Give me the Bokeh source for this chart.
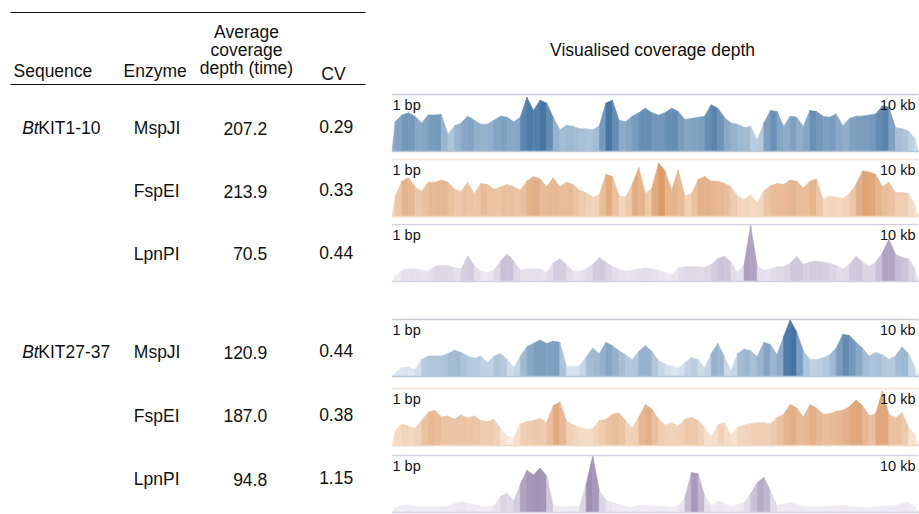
from bokeh.plotting import figure
from bokeh.models import Range1d
from bokeh.embed import file_html
from bokeh.resources import INLINE
from bokeh.core.properties import value

# ---------------- data ----------------
sequences = ["BtKIT1-10", "BtKIT27-37"]
enzymes = ["MspJI", "FspEI", "LpnPI"]
avg_depth = [207.2, 213.9, 70.5, 120.9, 187.0, 94.8]
cv_values = [0.29, 0.33, 0.44, 0.44, 0.38, 1.15]
header_seq = "Sequence"
header_enz = "Enzyme"
header_depth = ["Average", "coverage", "depth (time)"]
header_cv = "CV"
panel_title = "Visualised coverage depth"
genome_length = 10000
start_label = "1 bp"
end_label = "10 kb"

# coverage profiles (% of track height), 80 bins of 125 bp
cov_kit1_mspji = [52, 64, 68, 62, 50, 64, 64, 65, 30, 45, 50, 62, 55, 48, 48, 55, 62, 60, 52, 60,
                  95, 72, 90, 85, 60, 38, 46, 44, 40, 40, 38, 45, 85, 90, 55, 52, 62, 68, 76, 68,
                  64, 68, 76, 70, 56, 58, 60, 62, 82, 76, 60, 50, 48, 42, 44, 20, 50, 72, 70, 44,
                  62, 60, 44, 72, 70, 62, 60, 66, 45, 58, 62, 62, 64, 66, 80, 78, 42, 40, 36, 22]
cov_kit1_fspei = [35, 62, 68, 52, 44, 60, 60, 64, 60, 48, 44, 60, 40, 58, 56, 48, 52, 56, 52, 46,
                  62, 70, 66, 52, 68, 52, 60, 56, 46, 42, 34, 38, 74, 70, 36, 34, 56, 86, 40, 50,
                  94, 80, 46, 82, 36, 40, 65, 70, 62, 62, 58, 52, 36, 30, 38, 24, 45, 54, 58, 56,
                  64, 62, 50, 62, 66, 30, 36, 34, 32, 40, 56, 80, 78, 74, 52, 60, 42, 42, 40, 20]
cov_kit1_lpnpi = [10, 20, 22, 22, 20, 18, 27, 28, 28, 24, 22, 45, 28, 18, 16, 20, 36, 48, 36, 20,
                  22, 22, 22, 16, 32, 40, 30, 18, 18, 22, 30, 42, 34, 26, 22, 18, 20, 22, 24, 22,
                  20, 16, 12, 24, 26, 26, 26, 25, 30, 40, 44, 34, 16, 30, 98, 26, 20, 22, 26, 26,
                  32, 44, 30, 34, 36, 34, 32, 28, 22, 30, 44, 34, 26, 34, 50, 74, 48, 42, 40, 22]
cov_kit27_mspji = [6, 16, 17, 12, 30, 36, 36, 36, 40, 46, 42, 36, 32, 36, 24, 36, 40, 30, 16, 36,
                   52, 58, 64, 58, 62, 60, 18, 18, 19, 34, 50, 40, 60, 54, 45, 38, 30, 44, 54, 44,
                   28, 22, 18, 15, 24, 33, 30, 15, 40, 58, 35, 10, 40, 48, 45, 35, 60, 56, 38, 70,
                   99, 78, 45, 30, 30, 33, 38, 50, 74, 72, 60, 50, 36, 42, 38, 30, 36, 52, 40, 15]
cov_kit27_fspei = [25, 38, 34, 30, 44, 58, 62, 50, 52, 46, 54, 48, 52, 44, 42, 46, 30, 16, 14, 38,
                   42, 44, 48, 40, 70, 76, 44, 36, 32, 28, 30, 44, 46, 55, 57, 44, 30, 50, 72, 64,
                   46, 36, 40, 34, 46, 49, 44, 32, 16, 36, 40, 18, 32, 36, 38, 40, 40, 38, 49, 55,
                   72, 66, 50, 72, 66, 55, 56, 60, 62, 68, 80, 70, 52, 56, 95, 55, 48, 58, 32, 18]
cov_kit27_lpnpi = [8, 12, 14, 11, 10, 10, 10, 10, 11, 16, 19, 16, 14, 11, 10, 12, 28, 34, 20, 50,
                   74, 66, 78, 64, 12, 10, 10, 11, 10, 50, 99, 38, 22, 17, 14, 11, 9, 13, 13, 12,
                   11, 10, 9, 12, 26, 70, 68, 30, 12, 20, 17, 9, 14, 17, 33, 52, 62, 38, 12, 15,
                   18, 14, 11, 10, 10, 10, 11, 12, 13, 11, 10, 9, 9, 10, 11, 12, 12, 16, 18, 9]

tracks = [cov_kit1_mspji, cov_kit1_fspei, cov_kit1_lpnpi,
          cov_kit27_mspji, cov_kit27_fspei, cov_kit27_lpnpi]

# ---------------- styling / layout ----------------
FONT = value("Liberation Sans")
FS = "17.5px"
TXT = "#111111"
PALETTES = {
    "MspJI": ((221, 231, 241), (50, 103, 154), "#c6ccd6", "#b9c7d8"),
    "FspEI": ((251, 236, 222), (214, 142, 86), "#f3e3d5", "#f0d5bf"),
    "LpnPI": ((238, 235, 243), (128, 110, 158), "#d6d1e2", "#d6d0e2"),
}
ROW_Y = [127.5, 190.8, 253.3, 351.7, 415.0, 478.8]
TRACK_TOPS = [94, 159, 224, 319, 388, 455]
TRACK_H = 57.0
TX0, TX1 = 391.5, 918.0
FX0, FX1 = 0.0, 919.0
FY_BOTTOM, FY_TOP = 514.0, 0.0

p = figure(width=919, height=514, x_range=Range1d(FX0, FX1), y_range=Range1d(FY_BOTTOM, FY_TOP),
           x_axis_type=None, y_axis_type=None, output_backend="svg", toolbar_location=None,
           min_border=0, background_fill_color="white", border_fill_color="white")
p.grid.visible = False
p.outline_line_color = None

# genome-position x range for tracks
span_x = genome_length * (FX1 - FX0) / (TX1 - TX0)
sx = -span_x * (TX0 - FX0) / (FX1 - FX0)
p.extra_x_ranges = {"pos": Range1d(sx, sx + span_x)}

# per-track y ranges (0..100 % of track height)
yr = {}
for i, top in enumerate(TRACK_TOPS):
    bottom = top + TRACK_H
    span = 100.0 * (FY_BOTTOM - FY_TOP) / (bottom - top)
    start = -span * (FY_BOTTOM - bottom) / (FY_BOTTOM - FY_TOP)
    yr[f"t{i}"] = Range1d(start, start + span)
p.extra_y_ranges = yr

# ---------------- table ----------------
p.segment(x0=[10, 10], y0=[12, 84], x1=[365, 365], y1=[12, 84], line_color="#111111", line_width=1.1)

p.text(x=[13, 123], y=[70, 70], text=[header_seq, header_enz], text_font=FONT, text_font_size=FS,
       text_align="left", text_baseline="middle", text_color=TXT)
p.text(x=[246] * 3, y=[31.5, 49.5, 67.5], text=header_depth, text_font=FONT, text_font_size=FS,
       text_align="center", text_baseline="middle", text_color=TXT)
p.text(x=[333], y=[73], text=[header_cv], text_font=FONT, text_font_size=FS,
       text_align="center", text_baseline="middle", text_color=TXT)

seq_rows = [ROW_Y[0], ROW_Y[3]]
p.text(x=[21.7] * 2, y=seq_rows, text=[s[:2] for s in sequences], text_font=FONT, text_font_size=FS,
       text_font_style="italic", text_align="left", text_baseline="middle", text_color=TXT)
p.text(x=[37.8] * 2, y=seq_rows, text=[s[2:] for s in sequences], text_font=FONT, text_font_size=FS,
       text_align="left", text_baseline="middle", text_color=TXT)
p.text(x=[133.3] * 6, y=ROW_Y, text=enzymes * 2, text_font=FONT, text_font_size=FS,
       text_align="left", text_baseline="middle", text_color=TXT)
p.text(x=[266.7] * 6, y=ROW_Y, text=[f"{v:.1f}" for v in avg_depth], text_font=FONT, text_font_size=FS,
       text_align="right", text_baseline="middle", text_color=TXT)
p.text(x=[352.7] * 6, y=[y - 1.5 for y in ROW_Y], text=[f"{v:.2f}" for v in cv_values], text_font=FONT,
       text_font_size=FS, text_align="right", text_baseline="middle", text_color=TXT)

p.text(x=[652], y=[49], text=[panel_title], text_font=FONT, text_font_size=FS,
       text_align="center", text_baseline="middle", text_color=TXT)


# ---------------- coverage tracks ----------------
def shade(light, dark, v):
    t = min(max((v - 15.0) / 82.0, 0.0), 1.0)
    return "#%02x%02x%02x" % tuple(int(round(l + (d - l) * t)) for l, d in zip(light, dark))


for i, cov in enumerate(tracks):
    enz = enzymes[i % 3]
    light, dark, top_col, base_col = PALETTES[enz]
    n = len(cov)
    w = genome_length / n
    px = [0.0] + [(k + 0.5) * w for k in range(n)] + [float(genome_length)]
    pv = [0] + list(cov) + [0]
    xs, ys, cols = [], [], []
    for k in range(len(px) - 1):
        xs.append([px[k], px[k], px[k + 1], px[k + 1]])
        ys.append([0, pv[k], pv[k + 1], 0])
        cols.append(shade(light, dark, max(pv[k], pv[k + 1]) if k in (0, len(px) - 2)
                          else (pv[k] + pv[k + 1]) / 2.0))
    rn = f"t{i}"
    p.patches(xs=xs, ys=ys, fill_color=cols, line_color=cols, line_width=0.6,
              x_range_name="pos", y_range_name=rn)
    p.segment(x0=[0], y0=[100], x1=[genome_length], y1=[100], line_color=top_col, line_width=1.6,
              x_range_name="pos", y_range_name=rn)
    p.segment(x0=[0], y0=[0], x1=[genome_length], y1=[0], line_color=base_col, line_width=1.6,
              x_range_name="pos", y_range_name=rn)
    ly = TRACK_TOPS[i] + 10.5
    p.text(x=[TX0 + 0.5], y=[ly], text=[start_label], text_font=FONT, text_font_size="14.5px",
           text_align="left", text_baseline="middle", text_color=TXT)
    p.text(x=[915], y=[ly], text=[end_label], text_font=FONT, text_font_size="14.5px",
           text_align="right", text_baseline="middle", text_color=TXT)

open("out.html", "w").write(file_html(p, INLINE))
